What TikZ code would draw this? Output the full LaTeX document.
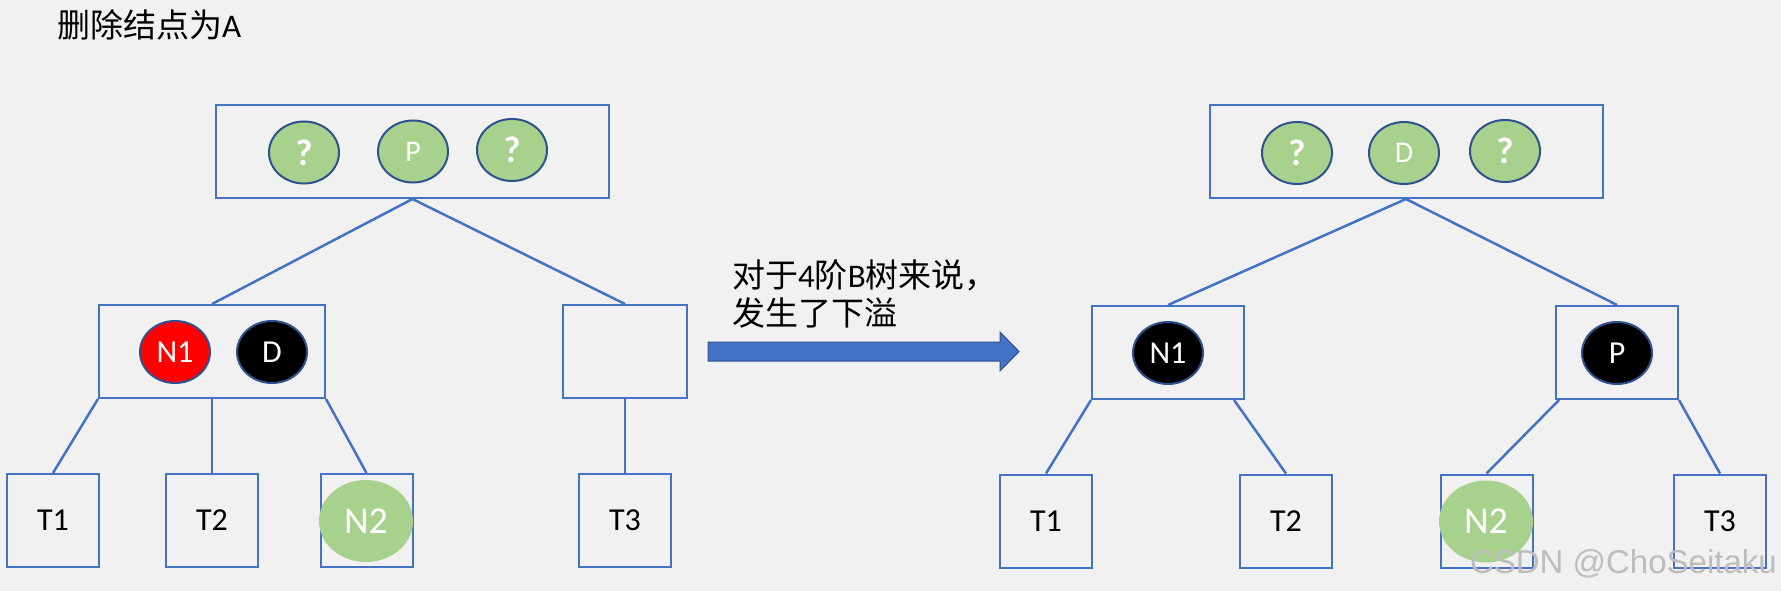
\documentclass[tikz,border=0pt]{standalone}
\usepackage{fontspec}
\setmainfont{Carlito}
\newfontfamily\cjk{Noto Sans CJK SC}
\newfontfamily\wmfont{Liberation Sans}
\usetikzlibrary{shapes.geometric,calc}
\definecolor{bg}{HTML}{F1F1F1}
\definecolor{boxblue}{HTML}{4472C4}
\definecolor{darkblue}{HTML}{2F528F}
\definecolor{leaf}{HTML}{A9D18E}
\definecolor{wm}{HTML}{BDBDBD}
\begin{document}
\begin{tikzpicture}[x=1pt,y=-1pt,
  box/.style={draw=boxblue, line width=2pt, inner sep=0pt},
  topbox/.style={box, minimum width=393pt, minimum height=93pt},
  midbox/.style={box, minimum height=93pt},
  leafbox/.style={box, minimum width=92pt, minimum height=93pt, text=black, font=\fontsize{32}{32}\selectfont},
  key/.style={ellipse, draw=darkblue, line width=2pt, inner sep=0pt, minimum width=70pt, minimum height=62pt, text=white},
  greenkey/.style={key, fill=leaf, font=\fontsize{30}{30}\selectfont},
  qkey/.style={key, fill=leaf, font=\fontsize{37}{37}\selectfont\bfseries},
  blackkey/.style={key, fill=black, font=\fontsize{32}{32}\selectfont},
  redkey/.style={key, fill=red, font=\fontsize{32}{32}\selectfont},
  subtree/.style={ellipse, fill=leaf, inner sep=0pt, minimum width=94pt, minimum height=82pt, text=white, font=\fontsize{38}{38}\selectfont},
  edge/.style={draw=boxblue, line width=2.5pt},
  bigarrow/.style={fill=boxblue, draw=darkblue, line width=1pt},
  cjktext/.style={font=\cjk\fontsize{33}{38}\selectfont, text=black, inner sep=0pt}
]
\fill[bg] (0,0) rectangle (1781,591);
\useasboundingbox (0,0) rectangle (1781,591);

% title
\node[cjktext, anchor=west] (title) at (57,25) {删除结点为{\rmfamily A}};

% ---------- left tree ----------
\node[topbox] (top1) at (412.5,151.5) {};
\node[qkey] (q1) at (304,152.5) {?};
\node[greenkey] (p1) at (413,151.5) {P};
\node[qkey] (q2) at (512,150) {?};

\node[midbox, minimum width=226pt] (m1) at (212,351.5) {};
\node[redkey] (n1a) at (175,352) {N1};
\node[blackkey] (da) at (272,352) {D};
\node[midbox, minimum width=124pt] (m2) at (625,351.5) {};

\node[leafbox] (t1a) at (53,520.5) {T1};
\node[leafbox] (t2a) at (212,520.5) {T2};
\node[leafbox] (n2ba) at (366.5,520.5) {};
\node[subtree] (n2a) at (366,521) {N2};
\node[leafbox] (t3a) at (625,520.5) {T3};

\draw[edge] (top1.south) -- (m1.north);
\draw[edge] (top1.south) -- (m2.north);
\draw[edge] (m1.south west) -- (t1a.north);
\draw[edge] (m1.south) -- (t2a.north);
\draw[edge] (m1.south east) -- (n2ba.north);
\draw[edge] (m2.south) -- (t3a.north);

% ---------- arrow ----------
\coordinate (arrtail) at (708,351.5);
\draw[bigarrow] ($(arrtail)+(0,-9.5)$) -- ++(292,0) -- ++(0,-10) -- ++(19,19.5) -- ++(-19,19.5) -- ++(0,-10) -- ++(-292,0) -- cycle;
\node[cjktext, anchor=west, align=left] (lbl) at (732,294) {对于{\rmfamily 4}阶{\rmfamily B}树来说，\\发生了下溢};

% ---------- right tree ----------
\node[topbox] (top2) at (1406,151.5) {};
\node[qkey] (q3) at (1297,153) {?};
\node[greenkey] (d2) at (1404,153) {D};
\node[qkey] (q4) at (1505,151) {?};

\node[midbox, minimum width=152pt] (r1) at (1168,352.5) {};
\node[blackkey] (n1b) at (1168,353) {N1};
\node[midbox, minimum width=122pt] (r2) at (1617,352.5) {};
\node[blackkey] (pb) at (1617,353) {P};

\node[leafbox] (t1b) at (1046,521) {T1};
\node[leafbox] (t2b) at (1286,521) {T2};
\node[leafbox] (n2bb) at (1486.5,521) {};
\node[subtree] (n2b) at (1486,521.5) {N2};
\node[leafbox] (t3b) at (1720,521) {T3};

\draw[edge] (top2.south) -- (r1.north);
\draw[edge] (top2.south) -- (r2.north);
\draw[edge] (r1.south west) -- (t1b.north);
\draw[edge] ($(r1.south east)+(-11,0)$) -- (t2b.north);
\draw[edge] ($(r2.south west)+(4,0)$) -- (n2bb.north);
\draw[edge] (r2.south east) -- (t3b.north);

% watermark
\node[anchor=base east, inner sep=0pt, text=wm, font=\wmfont\fontsize{33}{33}\selectfont] (wmk) at (1777,573) {CSDN @ChoSeitaku};
\end{tikzpicture}
\end{document}
